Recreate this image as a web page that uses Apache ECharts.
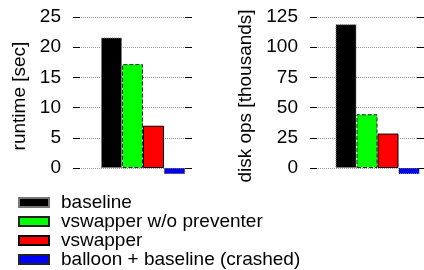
<!DOCTYPE html>
<html>
<head>
<meta charset="utf-8">
<script src="https://cdn.jsdelivr.net/npm/echarts@6/dist/echarts.min.js"></script>
<style>
html,body{margin:0;padding:0;background:#fff;}
#chart{width:424px;height:270px;}
</style>
</head>
<body>
<div id="chart"></div>
<script>
var seriesNames = ['baseline', 'vswapper w/o preventer', 'vswapper', 'balloon + baseline (crashed)'];
var runtimeSec = [21.6, 17.2, 7.0, -1];
var diskOpsK = [119, 44.5, 28.5, -5];
var runtimeTicks = [0, 25, 5];   // min, max, interval
var diskTicks = [0, 125, 25];

var fills = ['#000000', '#00ff00', '#ff0000', '#0000ff'];
var borders = [
	{ color: '#777', type: 'dotted' },
	{ color: '#222', type: 'dashed' },
	{ color: '#000', type: 'solid' },
	{ color: '#222', type: 'dotted' }
];
var font = 'Liberation Sans, Arial, sans-serif';

function yAxisFor(gi, name, ticks, gap) {
	return [{
		type: 'value', gridIndex: gi, min: ticks[0], max: ticks[1], interval: ticks[2],
		name: name, nameLocation: 'middle', nameGap: gap,
		nameTextStyle: { fontSize: 19, color: '#000', fontFamily: font, padding: [0, 7, 0, 0] },
		axisLine: { show: false },
		axisTick: { show: true, inside: true, length: 7, lineStyle: { color: '#000' } },
		axisLabel: { fontSize: 19, color: '#000', fontFamily: font, margin: 12 },
		splitLine: { show: true, lineStyle: { color: '#999', type: 'dotted', width: 1 } }
	}, {
		type: 'value', gridIndex: gi, position: 'right', min: ticks[0], max: ticks[1], interval: ticks[2],
		axisLine: { show: false },
		axisTick: { show: true, inside: true, length: 7, lineStyle: { color: '#000' } },
		axisLabel: { show: false },
		splitLine: { show: false }
	}];
}

function barsFor(gi, values) {
	var out = [{
		// empty slot that pushes the group to the right like gnuplot does
		name: 'pad', type: 'bar', xAxisIndex: gi, yAxisIndex: gi * 2,
		data: ['-'], barWidth: 21, barGap: '0%'
	}];
	for (var i = 0; i < seriesNames.length; i++) {
		out.push({
			name: seriesNames[i], type: 'bar', xAxisIndex: gi, yAxisIndex: gi * 2,
			data: [values[i]], barWidth: 21, barGap: '0%', clip: false,
			itemStyle: { color: fills[i], borderColor: borders[i].color, borderType: borders[i].type, borderWidth: 1 }
		});
	}
	return out;
}

var chart = echarts.init(document.getElementById('chart'), null, { renderer: 'canvas' });
chart.setOption({
	animation: false,
	grid: [
		{ left: 73, top: 17, width: 119, height: 151 },
		{ left: 310, top: 17, width: 119, height: 151 }
	],
	xAxis: [
		{ type: 'category', gridIndex: 0, data: [''], show: false },
		{ type: 'category', gridIndex: 1, data: [''], show: false }
	],
	yAxis: yAxisFor(0, 'runtime [sec]', runtimeTicks, 44).concat(yAxisFor(1, 'disk ops [thousands]', diskTicks, 55)),
	legend: {
		data: seriesNames, orient: 'vertical', left: 13, top: 188, height: 90,
		itemWidth: 30, itemHeight: 9, itemGap: 0, icon: 'rect',
		textStyle: { fontSize: 19, lineHeight: 19, color: '#000', fontFamily: font, padding: [0, 0, 0, 7] }
	},
	series: barsFor(0, runtimeSec).concat(barsFor(1, diskOpsK))
});
</script>
</body>
</html>
